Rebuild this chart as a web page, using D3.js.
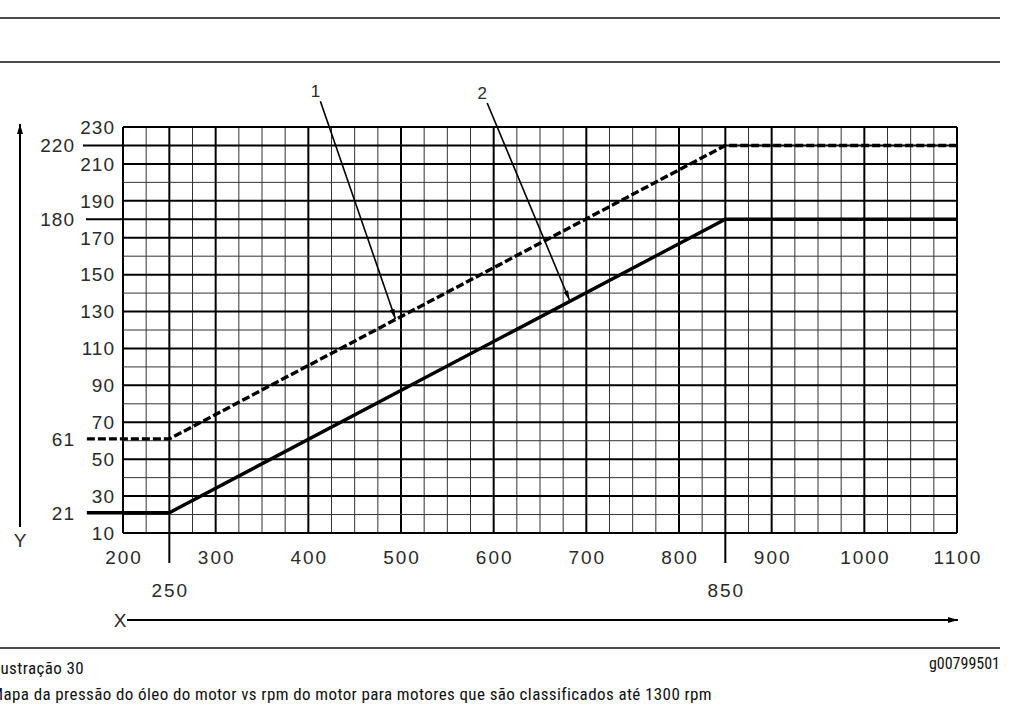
<!DOCTYPE html>
<html><head><meta charset="utf-8">
<script src="https://cdn.jsdelivr.net/npm/d3@7"></script>
<style>
html,body{margin:0;padding:0;background:#fff;}
svg{display:block;}
.lbl{font-family:"Liberation Sans",Arial,sans-serif;font-size:19px;fill:#2a2a2a;}
.cap{font-family:"Liberation Sans Narrow","Roboto Condensed","Liberation Sans",sans-serif;font-size:17px;fill:#111;letter-spacing:0.4px;}
</style></head>
<body>
<svg id="c" width="1024" height="714"></svg>
<script>
// ---- data ----
const xTickLabels = [200, 300, 400, 500, 600, 700, 800, 900, 1000, 1100];
const xMarkLabels = [250, 850];
const yTickLabels = [10, 30, 50, 70, 90, 110, 130, 150, 170, 190, 210, 230];
const yMarkLabels = [220, 180, 61, 21];
const rpm      = [161, 250, 850, 1100];
const pressMax = [61, 61, 220, 220];   // callout 1 (dashed)
const pressMin = [21, 21, 180, 180];   // callout 2 (solid)
const calloutNames = ["1", "2"];
const calloutFrom  = [[413, 244], [593, 243]];
const calloutTo    = [[494, 126], [682, 136]];

// ---- layout ----
const svg = d3.select("#c");
const x = d3.scaleLinear().domain([200, 1100]).range([123, 957]);
const y = d3.scaleLinear().domain([10, 230]).range([533, 127]);

const defs = svg.append("defs");
defs.append("marker").attr("id","ah").attr("viewBox","0 0 10 6").attr("refX",10).attr("refY",3)
  .attr("markerWidth",10).attr("markerHeight",6).attr("markerUnits","userSpaceOnUse").attr("orient","auto")
  .append("path").attr("d","M0,0 L10,3 L0,6 Z").attr("fill","#000");
defs.append("marker").attr("id","ahs").attr("viewBox","0 0 12 6").attr("refX",12).attr("refY",3)
  .attr("markerWidth",12).attr("markerHeight",5).attr("markerUnits","userSpaceOnUse").attr("orient","auto")
  .append("path").attr("d","M0,0 L12,3 L0,6 Z").attr("fill","#000");

// page rules
[18, 62, 648].forEach(yy => svg.append("line").attr("x1",0).attr("x2",1000).attr("y1",yy).attr("y2",yy)
  .attr("stroke","#111").attr("stroke-width",1.5));

// grid
const g = svg.append("g");
const xMajor = new Set(xTickLabels.concat(xMarkLabels));
const yMajor = new Set(yTickLabels.concat([220, 180]));
d3.range(200, 1101, 25).forEach(v => {
  const maj = xMajor.has(v);
  g.append("line").attr("x1",x(v)).attr("x2",x(v)).attr("y1",y(230)).attr("y2",y(10))
   .attr("stroke", maj ? "#000" : "#333").attr("stroke-width", maj ? 2 : 1);
});
d3.range(10, 231, 10).forEach(v => {
  const maj = yMajor.has(v);
  g.append("line").attr("x1",x(200)).attr("x2",x(1100)).attr("y1",y(v)).attr("y2",y(v))
   .attr("stroke", maj ? "#000" : "#333").attr("stroke-width", maj ? 2 : 1);
});
// marks extending below
xMarkLabels.forEach(v => g.append("line").attr("x1",x(v)).attr("x2",x(v)).attr("y1",y(10)).attr("y2",563)
  .attr("stroke","#000").attr("stroke-width",2));
// leaders for 220, 180
[220, 180].forEach((v,i) => g.append("line").attr("x1",[83,86][i]).attr("x2",x(200)).attr("y1",y(v)).attr("y2",y(v))
  .attr("stroke","#000").attr("stroke-width",2));

// labels
svg.selectAll(".xt").data(xTickLabels).join("text").attr("class","lbl")
  .attr("x", d => x(d)+1).attr("y", 557).attr("dy","0.36em").attr("text-anchor","middle")
  .style("letter-spacing","2px").text(d => d);
svg.selectAll(".xm").data(xMarkLabels).join("text").attr("class","lbl")
  .attr("x", d => x(d)+1).attr("y", 590).attr("dy","0.36em").attr("text-anchor","middle")
  .style("letter-spacing","2px").text(d => d);
svg.selectAll(".yt").data(yTickLabels).join("text").attr("class","lbl")
  .attr("x", 115).attr("y", d => y(d)).attr("dy","0.36em").attr("text-anchor","end")
  .style("letter-spacing","1px").text(d => d);
svg.selectAll(".ym").data(yMarkLabels).join("text").attr("class","lbl")
  .attr("x", 75).attr("y", d => y(d)).attr("dy","0.36em").attr("text-anchor","end")
  .style("letter-spacing","1px").text(d => d);

// data lines
const line = d3.line().x(d => x(d[0])).y(d => y(d[1]));
svg.append("path").datum(rpm.map((r,i)=>[r,pressMax[i]])).attr("d",line)
  .attr("fill","none").attr("stroke","#000").attr("stroke-width",3.4).attr("stroke-dasharray","8,3");
svg.append("path").datum(rpm.map((r,i)=>[r,pressMin[i]])).attr("d",line)
  .attr("fill","none").attr("stroke","#000").attr("stroke-width",3.4);

// callouts
calloutNames.forEach((n,i) => {
  const f = calloutFrom[i], t = calloutTo[i];
  svg.append("line").attr("x1",x(f[0])).attr("y1",y(f[1])).attr("x2",x(t[0])).attr("y2",y(t[1]))
    .attr("stroke","#000").attr("stroke-width",1.6).attr("marker-end","url(#ahs)");
  svg.append("text").attr("class","lbl").style("font-size","17px")
    .attr("x", x(f[0])-5).attr("y", y(f[1])-10).attr("dy","0.36em").attr("text-anchor","middle").text(n);
});

// axis arrows
svg.append("line").attr("x1",20).attr("x2",20).attr("y1",527).attr("y2",124)
  .attr("stroke","#000").attr("stroke-width",2).attr("marker-end","url(#ah)");
svg.append("text").attr("class","lbl").attr("x",20).attr("y",540).attr("dy","0.36em").attr("text-anchor","middle").text("Y");
svg.append("line").attr("x1",127).attr("x2",958).attr("y1",620).attr("y2",620)
  .attr("stroke","#000").attr("stroke-width",2).attr("marker-end","url(#ah)");
svg.append("text").attr("class","lbl").attr("x",120).attr("y",620).attr("dy","0.36em").attr("text-anchor","middle").text("X");

// captions (the reference crops their first letters at the page edge)
const c1 = svg.append("text").attr("class","cap").attr("y",674).text("Ilustração 30");
const w1 = c1.node().getSubStringLength(0,2);
c1.attr("x", -w1 + 0.5);
const c2 = svg.append("text").attr("class","cap").attr("y",700)
  .text("Mapa da pressão do óleo do motor vs rpm do motor para motores que são classificados até 1300 rpm");
const wM = c2.node().getSubStringLength(0,1);
c2.attr("x", -wM + 3.5);
svg.append("text").attr("class","cap").style("font-size","16px").style("letter-spacing","0px")
  .attr("x",1000).attr("y",669).attr("text-anchor","end").text("g00799501");
</script>
</body></html>
